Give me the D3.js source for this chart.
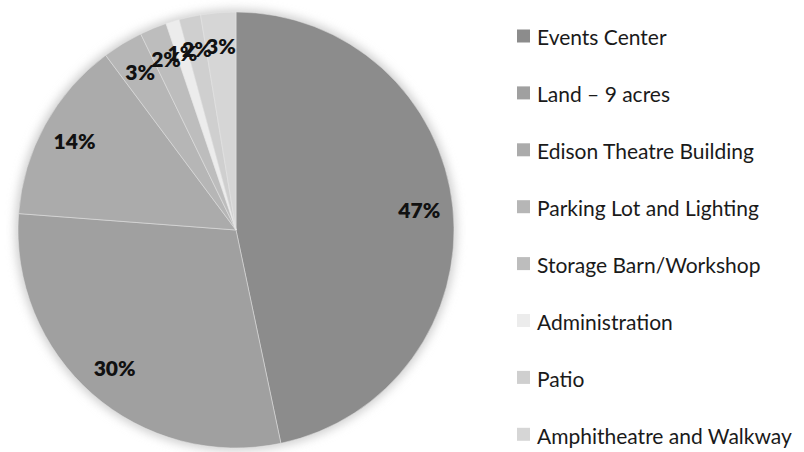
<!DOCTYPE html>
<html lang="en">
<head>
<meta charset="UTF-8">
<title>Budget breakdown</title>
<style>
  body { margin: 0; background: #fff; }
</style>
</head>
<body>
<script src="https://cdn.jsdelivr.net/npm/d3@7"></script>
<div id="chart"></div>
<script>

// categories and shares (percent of total)
const categories = ["Events Center", "Land \u2013 9 acres", "Edison Theatre Building",
  "Parking Lot and Lighting", "Storage Barn/Workshop", "Administration", "Patio",
  "Amphitheatre and Walkway"];
const shares = [46.7, 29.5, 13.6, 3.0, 2.0, 1.0, 1.6, 2.6];
const greys = ["#8c8c8c", "#a0a0a0", "#ababab", "#b6b6b6", "#bdbdbd", "#ececec", "#cfcfcf", "#d6d6d6"];

const width = 804, height = 452;
const cx = 236, cy = 230, radius = 218;

const svg = d3.select("#chart")
  .append("svg")
    .attr("width", width)
    .attr("height", height);

// soft halo round the pie
const defs = svg.append("defs");
defs.append("filter")
    .attr("id", "halo")
    .attr("x", "-20%").attr("y", "-20%")
    .attr("width", "140%").attr("height", "140%")
  .append("feGaussianBlur")
    .attr("stdDeviation", 5);

const g = svg.append("g")
    .attr("transform", `translate(${cx}, ${cy})`);

g.append("circle")
    .attr("r", radius + 3)
    .attr("fill", "#d0d0d0")
    .attr("filter", "url(#halo)");

const color = d3.scaleOrdinal().domain(categories).range(greys);

const pie = d3.pie().sort(null).value(d => d.value);
const data = categories.map((c, i) => ({ name: c, value: shares[i] }));
const arcs = pie(data);

const arc = d3.arc().innerRadius(0).outerRadius(radius);
const labelArc = d3.arc().innerRadius(radius * 0.845).outerRadius(radius * 0.845);

g.selectAll("path.slice")
  .data(arcs)
  .join("path")
    .attr("class", "slice")
    .attr("d", arc)
    .attr("fill", d => color(d.data.name))
    .attr("stroke", "#e6e6e6")
    .attr("stroke-width", 0.5);

// percent labels
g.selectAll("text.pct")
  .data(arcs)
  .join("text")
    .attr("class", "pct")
    .attr("transform", d => `translate(${labelArc.centroid(d)})`)
    .attr("text-anchor", "middle")
    .attr("dy", "0.35em")
    .style("font-family", "Lato, 'Open Sans', sans-serif")
    .style("font-weight", 800)
    .style("font-size", "21px")
    .style("fill", "#111")
    .text(d => Math.round(d.data.value) + "%");

// legend
const legendX = 517, legendY = 38, step = 56.9, size = 13;
const legend = svg.selectAll("g.legend")
  .data(categories)
  .join("g")
    .attr("class", "legend")
    .attr("transform", (d, i) => `translate(${legendX}, ${legendY + i * step})`);

legend.append("rect")
    .attr("x", 0)
    .attr("y", -size / 2 - 2)
    .attr("width", size)
    .attr("height", size)
    .attr("fill", d => color(d));

legend.append("text")
    .attr("x", 20)
    .attr("dy", "0.35em")
    .style("font-family", "Lato, 'Open Sans', sans-serif")
    .style("font-size", "21px")
    .style("fill", "#1a1a1a")
    .text(d => d);

</script>
</body>
</html>
